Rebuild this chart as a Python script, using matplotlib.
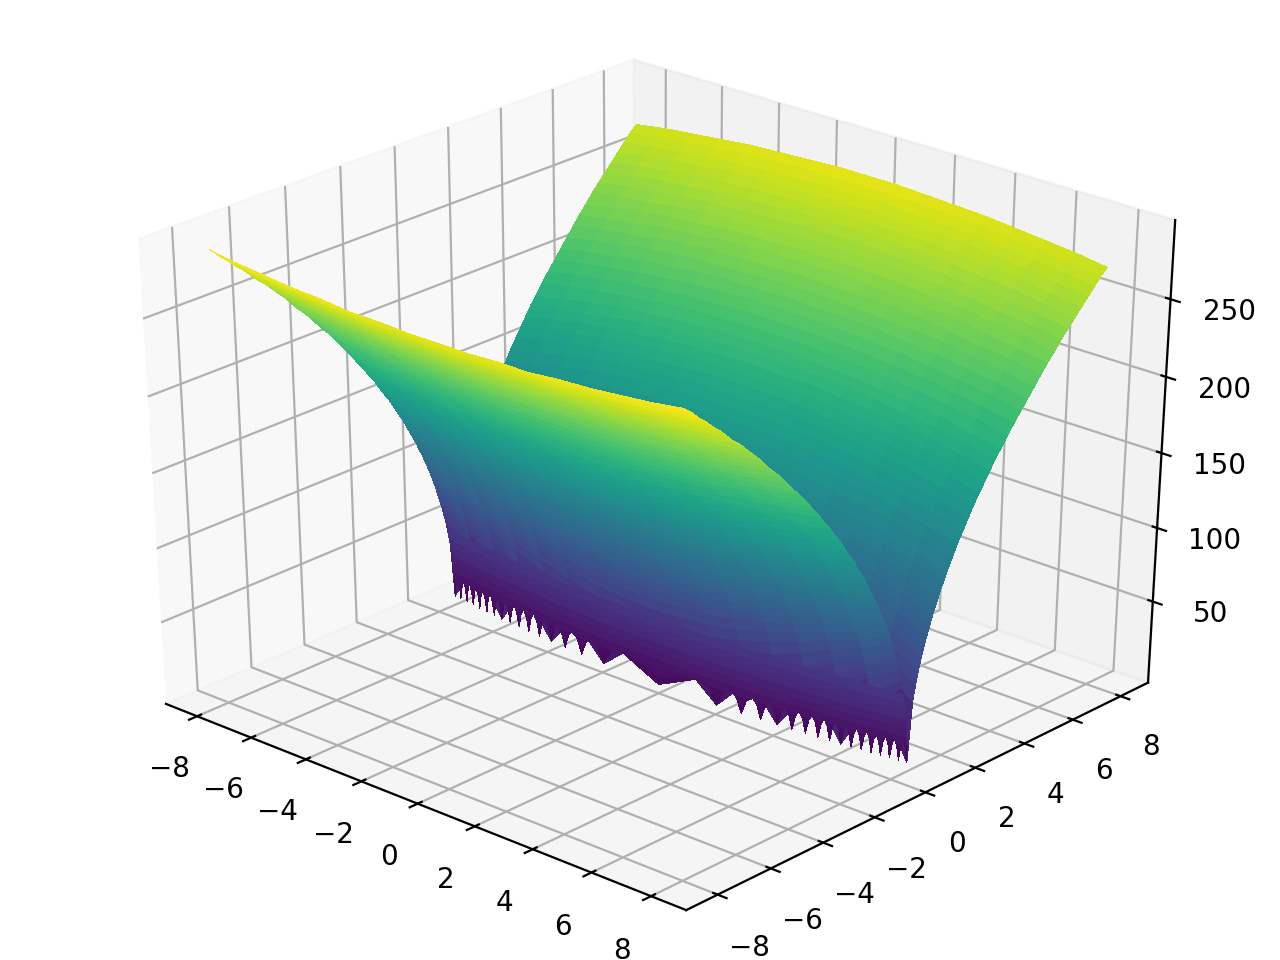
import numpy as np
import matplotlib
matplotlib.use("Agg")
import matplotlib.pyplot as plt

# Surface heights (the surface looks mirrored about x = 0).
x_even = [0, 2, 4, 6, 8]
x_odd = [1, 3, 5, 7]

y_front = [-8, -7.75, -7.5, -7.25, -7, -6.75, -6.5, -6.25, -6, -5.75, -5.5, -5.25, -5, -4.75, -4.5, -4.25,
           -4, -3.8, -3.6, -3.4, -3.2, -3, -2.8, -2.6, -2.4, -2.2, -2, -1.9, -1.8, -1.7, -1.6, -1.5, -1.4,
           -1.3, -1.2, -1.1, -1, -.9, -.8, -.7, -.6, -.5, -.4, -.3, -.2, -.1, 0]
z_front_even = [
    [283, 284, 286, 289, 294], [278, 279, 281, 285, 290], [274, 275, 277, 280, 285], [269, 270, 272, 276, 281],
    [265, 265, 268, 271, 276], [260, 261, 263, 267, 272], [255, 256, 258, 262, 267], [250, 251, 253, 257, 262],
    [245, 246, 248, 252, 258], [240, 241, 243, 247, 253], [235, 235, 238, 242, 248], [229, 230, 233, 237, 243],
    [224, 224, 227, 232, 237], [218, 219, 222, 226, 232], [212, 213, 216, 220, 227], [206, 207, 210, 215, 221],
    [200, 201, 204, 209, 215], [195, 196, 199, 204, 211], [190, 191, 194, 199, 206], [184, 185, 189, 194, 201],
    [179, 180, 183, 189, 196], [173, 174, 178, 183, 191], [167, 169, 172, 178, 185], [161, 162, 166, 172, 180],
    [155, 156, 160, 166, 174], [148, 150, 154, 160, 169], [141, 143, 147, 154, 162], [138, 139, 144, 150, 159],
    [134, 136, 140, 147, 156], [130, 132, 136, 144, 153], [126, 128, 133, 140, 150], [122, 124, 129, 136, 146],
    [118, 120, 125, 133, 143], [114, 116, 121, 129, 139], [110, 111, 117, 125, 136], [105, 107, 112, 121, 132],
    [100, 102, 108, 117, 128], [95, 97, 103, 112, 124], [89, 92, 98, 108, 120], [84, 86, 93, 103, 116],
    [77, 80, 87, 98, 111], [71, 73, 81, 93, 107], [63, 66, 75, 87, 102], [55, 58, 68, 81, 97],
    [45, 49, 60, 75, 92], [32, 37, 51, 68, 86], [0, 20, 40, 60, 80],
]
z_front_odd = [
    [283, 284, 287, 291], [279, 280, 283, 287], [274, 275, 278, 283], [269, 271, 274, 278],
    [265, 266, 269, 274], [260, 262, 265, 269], [255, 257, 260, 264], [250, 252, 255, 260],
    [245, 247, 250, 255], [240, 242, 245, 250], [235, 236, 240, 245], [229, 231, 235, 240],
    [224, 226, 229, 234], [218, 220, 224, 229], [212, 214, 218, 223], [206, 208, 212, 218],
    [200, 202, 206, 212], [195, 197, 201, 207], [190, 192, 196, 202], [185, 187, 191, 197],
    [179, 181, 186, 192], [173, 176, 180, 187], [168, 170, 175, 181], [162, 164, 169, 176],
    [155, 158, 163, 170], [149, 151, 157, 164], [142, 145, 150, 158], [138, 141, 147, 155],
    [135, 137, 143, 151], [131, 134, 140, 148], [127, 130, 136, 145], [123, 126, 132, 141],
    [119, 122, 128, 137], [114, 118, 124, 134], [110, 114, 120, 130], [105, 109, 116, 126],
    [100, 104, 112, 122], [95, 99, 107, 118], [90, 94, 102, 114], [84, 89, 97, 109],
    [78, 83, 92, 104], [71, 77, 87, 99], [64, 70, 81, 94], [56, 62, 74, 89],
    [46, 54, 67, 83], [33, 44, 59, 77], [10, 30, 50, 70],
]

y_back = [.04, .1, .16, .2, .3, .36, .5, .64, .8, .9, 1, 1.1, 1.2, 1.3, 1.4, 1.5, 1.6, 1.7, 1.8, 1.9, 2,
          2.2, 2.4, 2.6, 2.8, 3, 3.2, 3.4, 3.6, 3.8, 4, 4.25, 4.5, 4.75, 5, 5.25, 5.5, 5.75, 6, 6.25,
          6.5, 6.75, 7, 7.25, 7.5, 7.75, 8]
z_back_even = [
    [20, 0, 35, 57, 77], [32, 24, 24, 51, 73], [40, 35, 0, 45, 69], [45, 40, 20, 40, 66],
    [55, 51, 37, 24, 58], [60, 57, 45, 0, 53], [71, 68, 58, 37, 37], [80, 77, 69, 53, 0],
    [89, 87, 80, 66, 40], [95, 93, 86, 73, 51], [100, 98, 92, 80, 60], [105, 103, 97, 86, 68],
    [110, 108, 102, 92, 75], [114, 112, 107, 97, 81], [118, 117, 111, 102, 87], [122, 121, 116, 107, 93],
    [126, 125, 120, 111, 98], [130, 129, 124, 116, 103], [134, 133, 128, 120, 108], [138, 136, 132, 124, 112],
    [141, 140, 136, 128, 117], [148, 147, 143, 136, 125], [155, 154, 150, 143, 133], [161, 160, 156, 150, 140],
    [167, 166, 163, 156, 147], [173, 172, 169, 162, 154], [179, 178, 174, 169, 160], [184, 183, 180, 174, 166],
    [190, 189, 185, 180, 172], [195, 194, 191, 185, 178], [200, 199, 196, 191, 183], [206, 205, 202, 197, 190],
    [212, 211, 208, 203, 196], [218, 217, 214, 209, 202], [224, 223, 220, 215, 208], [229, 228, 226, 221, 214],
    [235, 234, 231, 226, 220], [240, 239, 236, 232, 226], [245, 244, 241, 237, 231], [250, 249, 247, 242, 237],
    [255, 254, 252, 248, 242], [260, 259, 257, 253, 247], [265, 264, 262, 258, 252], [269, 268, 267, 263, 257],
    [274, 273, 271, 267, 262], [278, 278, 276, 272, 267], [283, 282, 280, 276, 271],
]
z_back_odd = [
    [17, 22, 46, 67], [30, 10, 39, 62], [39, 26, 30, 57], [44, 33, 22, 54],
    [54, 46, 22, 44], [59, 52, 33, 36], [70, 64, 50, 10], [79, 74, 62, 39],
    [89, 84, 74, 56], [94, 90, 81, 64], [99, 95, 87, 71], [104, 100, 92, 78],
    [109, 105, 97, 84], [114, 110, 102, 90], [118, 114, 107, 95], [122, 119, 112, 100],
    [126, 123, 116, 105], [130, 127, 120, 110], [134, 131, 124, 114], [137, 135, 128, 119],
    [141, 138, 132, 123], [148, 145, 140, 131], [155, 152, 147, 138], [161, 158, 153, 145],
    [167, 165, 160, 152], [173, 171, 166, 158], [179, 176, 172, 165], [184, 182, 177, 171],
    [189, 187, 183, 176], [195, 193, 188, 182], [200, 198, 194, 187], [206, 204, 200, 194],
    [212, 210, 206, 200], [218, 216, 212, 206], [223, 222, 218, 212], [229, 227, 224, 218],
    [234, 233, 229, 224], [240, 238, 235, 229], [245, 243, 240, 235], [250, 248, 245, 240],
    [255, 253, 250, 245], [260, 258, 255, 250], [264, 263, 260, 255], [269, 268, 265, 260],
    [274, 272, 269, 265], [278, 277, 274, 269], [283, 281, 278, 274],
]

# The jagged bottom of the valley: tips and arcs read along x >= 0
floor_x = [0, 1.41, 1.73, 2, 2.24, 2.45, 2.65, 2.83, 3, 3.16, 3.32, 3.46, 3.61, 3.74, 3.87, 4, 4.12, 4.24, 4.36,
           4.47, 4.58, 4.69, 4.80, 4.90, 5, 5.10, 5.20, 5.29, 5.39, 5.48, 5.57, 5.66, 5.74, 5.83, 5.92, 6, 6.08,
           6.16, 6.24, 6.32, 6.40, 6.48, 6.56, 6.63, 6.71, 6.78, 6.86, 6.93, 7, 7.07, 7.14, 7.21, 7.28, 7.35,
           7.42, 7.48, 7.55, 7.62, 7.68, 7.75, 7.81, 7.87, 7.94, 8]
floor_y = [0, .02, .03, .04, .05, .06, .07, .08, .09, .10, .11, .12, .13, .14, .15, .16, .17, .18, .19,
           .20, .21, .22, .23, .24, .25, .26, .27, .28, .29, .30, .31, .32, .33, .34, .35, .36, .37,
           .38, .39, .40, .41, .42, .43, .44, .45, .46, .47, .48, .49, .50, .51, .52, .53, .54,
           .55, .56, .57, .58, .59, .60, .61, .62, .63, .64]
floor_z = [0, 14, 10, 0, 10, 14, 10, 0, 10, 14, 10, 0, 10, 14, 10, 0, 10, 14, 10,
           0, 10, 14, 10, 0, 10, 14, 10, 0, 10, 14, 10, 0, 10, 14, 10, 0, 10,
           14, 10, 0, 10, 14, 10, 0, 10, 14, 10, 0, 10, 14, 10, 0, 10, 14,
           10, 0, 10, 14, 10, 0, 10, 14, 10, 0]
strip_levels = [0, 6, 12, 18, 24, 30, 36, 42, 48]
strip_dy = [0, .004, .014, .032, .058, .09, .13, .18, .23]
x_ticks = [-8, -6, -4, -2, 0, 2, 4, 6, 8]
y_ticks = [-8, -6, -4, -2, 0, 2, 4, 6, 8]
z_ticks = [50, 100, 150, 200, 250]

even = np.array(z_front_even + z_back_even, float)
odd = np.array(z_front_odd + z_back_odd, float)
order = np.argsort(x_even + x_odd)
x_half = np.array(x_even + x_odd, float)[order]
z_half = np.hstack([even, odd])[:, order]
x_cols = np.concatenate([-x_half[:0:-1], x_half])
y_rows = np.array(y_front + y_back, float)
Z = np.hstack([z_half[:, :0:-1], z_half])
X, Y = np.meshgrid(x_cols, y_rows)

fx = np.array(floor_x)
fy = np.array(floor_y)
fz = np.array(floor_z, float)
sx = np.concatenate([-fx[:0:-1], fx])
sy = np.concatenate([fy[:0:-1], fy])
sz = np.concatenate([fz[:0:-1], fz])
SX = np.array([sx for _ in strip_levels])
SY = np.array([sy - d for d in strip_dy])
SZ = np.array([np.maximum(sz, lev) for lev in strip_levels])

fig = plt.figure(figsize=(6.4, 4.8), dpi=200)
ax = fig.add_axes([0.036, 0.025, 0.932, 0.95], projection="3d")
ax.apply_aspect = lambda position=None: None   # let the 3D box fill the 4:3 figure
ax.computed_zorder = False
ax.view_init(elev=30, azim=-48)
ax.set_box_aspect((1, 1, 0.98), zoom=1.0)
split = int(np.argmin(np.abs(y_rows - 0.64)))   # the far slope is painted first, the near slope over it
style = dict(rstride=1, cstride=1, cmap="viridis", vmin=0, vmax=294, linewidth=0, antialiased=False)
ax.plot_surface(X[split:], Y[split:], Z[split:], zorder=1, **style)
ax.plot_surface(X[:split + 1], Y[:split + 1], Z[:split + 1], zorder=2, **style)
ax.plot_surface(SX, SY, SZ, zorder=3, **style)
ax.set_xticks(x_ticks)
ax.set_yticks(y_ticks)
ax.set_zticks(z_ticks)
fig.savefig("out.png", dpi=200)
